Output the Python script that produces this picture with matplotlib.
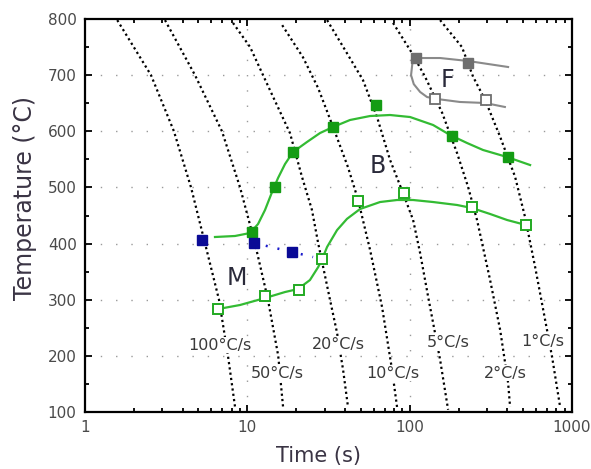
import matplotlib
matplotlib.use("Agg")
import matplotlib.pyplot as plt
from matplotlib.ticker import FixedLocator, LogLocator, NullFormatter, FixedFormatter

# ---------------- data ----------------
# cooling curves: time (s) and temperature (°C)
cool_100_t = [1.58, 2.55, 3.53, 4.50, 5.49, 6.69, 7.6, 8.4]
cool_100_T = [798, 700, 600, 500, 400, 300, 200, 109]
cool_50_t = [3.11, 4.76, 6.98, 9.02, 11.15, 13.4, 15.5, 16.6]
cool_50_T = [798, 700, 600, 500, 400, 300, 200, 109]
cool_20_t = [8.16, 10.4, 13.8, 18.3, 21.7, 25.0, 27.3, 32.3, 35.7, 38.9, 41.7]
cool_20_T = [793, 750, 673, 597, 519, 460, 401, 300, 241, 175, 109]
cool_10_t = [16.4, 22.0, 27.3, 33.7, 41.7, 48.1, 57.0, 67.6, 77.9, 83.6]
cool_10_T = [789, 732, 677, 608, 536, 478, 389, 287, 175, 109]
cool_5_t = [31.0, 41.1, 51.6, 63.0, 75.7, 91.0, 105, 116, 130, 154, 172.5]
cool_5_T = [798, 739, 691, 625, 549, 490, 442, 383, 305, 193, 104]
cool_2_t = [79.0, 103.5, 124.5, 158.5, 196, 229, 260, 313, 361, 404, 415.6]
cool_2_T = [793, 739, 697, 633, 561, 501, 442, 335, 246, 152, 109]
cool_1_t = [154, 210, 246, 291.5, 361, 446, 514, 593, 683, 754, 845]
cool_1_T = [798, 750, 697, 656, 590, 519, 447, 358, 264, 198, 109]

rate_labels = ["100°C/s", "50°C/s", "20°C/s", "10°C/s", "5°C/s", "2°C/s", "1°C/s"]
rate_label_t = [6.8, 15.2, 36.2, 79, 172, 386, 661]
rate_label_T = [219, 169, 221, 169, 223, 169, 226]

# bainite start (filled green) and finish (open green) points
bs_t = [10.7, 14.8, 19.1, 33.7, 62, 182, 404]
bs_T = [421, 501, 563, 608, 647, 592, 554]
bf_t = [6.6, 12.9, 20.8, 28.9, 48.1, 92.4, 242, 521]
bf_T = [283, 307, 317, 372, 476, 490, 465, 433]

# fitted curves through those points
bs_line_t = [6.32, 8.40, 10.39, 11.64, 12.85, 14.2, 15.46, 17.07, 19.13, 23.3, 28.05,
             33.7, 42.9, 57.0, 75.7, 100.6, 139.4, 177.4, 225.8, 283, 398, 552]
bs_line_T = [411.7, 413.5, 418.8, 434.8, 459.8, 491.8, 516.8, 541.7, 563.1, 580.9, 596.9,
             607.6, 620.1, 627.2, 629.0, 625.4, 611.2, 593.4, 579.1, 566.7, 554.2, 539.9]
bf_line_t = [6.60, 9.02, 12.85, 17.07, 20.5, 24.3, 27.3, 28.9, 31.0, 35.7, 41.1,
             49.5, 65.7, 83.6, 105, 139.4, 196, 242, 313, 398, 521]
bf_line_T = [283.4, 290.6, 303, 313.7, 319, 335, 358, 372.5, 394, 424, 444,
             461.6, 474, 477.6, 477.6, 474, 468.7, 463.3, 452.7, 442, 433]

# martensite start (blue)
ms_t = [5.26, 11.0, 18.9]
ms_T = [406, 401, 385]
ms_line_t = [11.0, 18.9, 25.4]
ms_line_T = [401, 385, 376]

# ferrite start (filled grey) and finish (open grey)
fs_t = [109, 229]
fs_T = [730, 722]
ff_t = [143, 296]
ff_T = [657, 656]
f_line_t = [404, 229, 154, 111, 104, 102, 106, 116, 128, 147.5, 204, 291.5, 386]
f_line_T = [714.5, 725.2, 730.5, 730.5, 722, 700, 684, 670, 661, 657.5, 652.2, 650.4, 643.3]

phase_labels = ["M", "B", "F"]
phase_t = [8.6, 63.6, 172]
phase_T = [339, 538, 691]

x_ticks = [1, 10, 100, 1000]
x_ticklabels = ["1", "10", "100", "1000"]
y_ticks = [100, 200, 300, 400, 500, 600, 700, 800]

# ---------------- figure ----------------
W, H = 591, 469
fig = plt.figure(figsize=(W / 100, H / 100), dpi=100)
ax = fig.add_axes([85 / W, 1 - 412 / H, (572 - 85) / W, (412 - 19) / H])
ax.set_xscale("log")
ax.set_xlim(1, 1000)
ax.set_ylim(100, 800)

# grid
grid_kw = dict(color="#9a9a9a", lw=1.0, dashes=(1, 10), zorder=0.5)
for gx in [10, 100]:
    ax.axvline(gx, **grid_kw)
for gy in [200, 300, 400, 500, 600, 700]:
    ax.axhline(gy, **grid_kw)

# cooling curves
cool_kw = dict(color="black", lw=1.6, dashes=(1, 1.4), zorder=1)
for tt, TT in [(cool_100_t, cool_100_T), (cool_50_t, cool_50_T), (cool_20_t, cool_20_T),
               (cool_10_t, cool_10_T), (cool_5_t, cool_5_T), (cool_2_t, cool_2_T),
               (cool_1_t, cool_1_T)]:
    ax.plot(tt, TT, **cool_kw)

# rate labels
for lab, tt, TT in zip(rate_labels, rate_label_t, rate_label_T):
    ax.text(tt, TT, lab, ha="center", va="center", fontsize=11.5, color="#3a3a3a",
            bbox=dict(facecolor="white", edgecolor="none", pad=0.5), zorder=3)

green_line = "#33bb33"
green_fill = "#149c14"
ax.plot(bs_line_t, bs_line_T, color=green_line, lw=1.6, zorder=4)
ax.plot(bf_line_t, bf_line_T, color=green_line, lw=1.6, zorder=4)
ax.plot(bs_t, bs_T, ls="none", marker="s", ms=7, mfc=green_fill, mec=green_fill, zorder=5)
ax.plot(bf_t, bf_T, ls="none", marker="s", ms=6.5, mfc="white", mec="#22aa22", mew=1.4, zorder=5)

ax.plot(ms_line_t, ms_line_T, color="#1a1acc", lw=1.8, dashes=(0.8, 4), zorder=4)
ax.plot(ms_t, ms_T, ls="none", marker="s", ms=7.5, mfc="#0a0a96", mec="#0a0a96", zorder=5)

ax.plot(f_line_t, f_line_T, color="#8a8a8a", lw=1.5, zorder=4)
ax.plot(fs_t, fs_T, ls="none", marker="s", ms=6.5, mfc="#6e6e6e", mec="#6e6e6e", zorder=5)
ax.plot(ff_t, ff_T, ls="none", marker="s", ms=6.5, mfc="white", mec="#6e6e6e", mew=1.3, zorder=5)

for lab, tt, TT in zip(phase_labels, phase_t, phase_T):
    ax.text(tt, TT, lab, ha="center", va="center", fontsize=17, color="#2a2a3a", zorder=6)

# ticks
ax.xaxis.set_major_locator(FixedLocator(x_ticks))
ax.xaxis.set_major_formatter(FixedFormatter(x_ticklabels))
ax.xaxis.set_minor_locator(LogLocator(base=10, subs=range(2, 10)))
ax.xaxis.set_minor_formatter(NullFormatter())
ax.yaxis.set_major_locator(FixedLocator(y_ticks))
ax.yaxis.set_minor_locator(FixedLocator([150, 250, 350, 450, 550, 650, 750]))
ax.tick_params(which="both", direction="in", top=True, right=True, colors="black",
               labelcolor="#4a4a4a", labelsize=11, width=1.3)
ax.tick_params(which="major", length=5)
ax.tick_params(which="minor", length=3)
ax.tick_params(axis="x", which="major", pad=6)
ax.tick_params(axis="y", which="major", pad=6)
for sp in ax.spines.values():
    sp.set_linewidth(1.6)

fig.text(25 / W, 1 - 197.5 / H, "Temperature (°C)", rotation=90, ha="center", va="center",
         fontsize=17, color="#3a3444")
fig.text(318.5 / W, 1 - 456 / H, "Time (s)", ha="center", va="center",
         fontsize=15, color="#3a3444")

fig.savefig("out.png", dpi=100)
